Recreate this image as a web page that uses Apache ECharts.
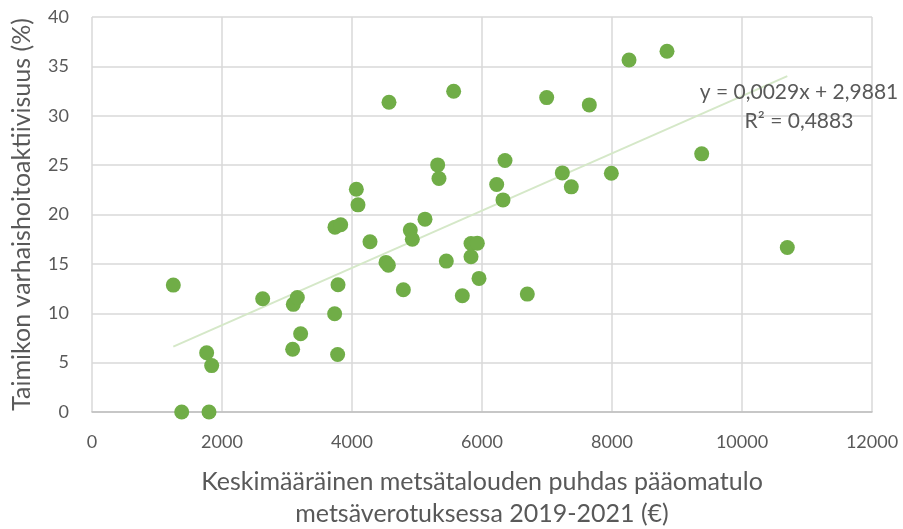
<!DOCTYPE html>
<html>
<head>
<meta charset="utf-8">
<script src="https://cdn.jsdelivr.net/npm/echarts@6/dist/echarts.min.js"></script>
<style>
  html, body { margin: 0; padding: 0; background: #fff; }
  #chart { width: 903px; height: 529px; }
</style>
</head>
<body>
<div id="chart"></div>
<script>
// Keskimääräinen puhdas pääomatulo (€) ja taimikon varhaishoitoaktiivisuus (%)
const incomeEur = [
  1251, 1380, 1800, 1764, 1841, 2626, 3087, 3097, 3159, 3210,
  3733, 3785, 3779, 3738, 3826, 4067, 4092, 4277, 4523, 4559,
  4569, 4790, 4897, 4928, 5123, 5318, 5338, 5451, 5564, 5697,
  5831, 5928, 5831, 5954, 6226, 6323, 6354, 6697, 6995, 7236,
  7374, 7651, 7990, 8262, 8846, 9380, 10697
];
const activityPct = [
  12.85, 0.0, 0.0, 6.0, 4.7, 11.47, 6.35, 10.9, 11.6, 7.93,
  9.95, 12.88, 5.83, 18.72, 18.96, 22.56, 20.98, 17.24, 15.15, 14.87,
  31.37, 12.38, 18.42, 17.5, 19.53, 25.02, 23.64, 15.28, 32.48, 11.77,
  17.07, 17.1, 15.72, 13.53, 23.04, 21.48, 25.47, 11.94, 31.84, 24.21,
  22.8, 31.1, 24.18, 35.65, 36.53, 26.14, 16.66
];

// Lineaarinen trendi: y = 0,0029x + 2,9881
const trendSlope = 0.0029;
const trendIntercept = 2.9881;
const trendLabel = ['y = 0,0029x + 2,9881', 'R² = 0,4883'];

const xTicks = [0, 2000, 4000, 6000, 8000, 10000, 12000];
const yTicks = [0, 5, 10, 15, 20, 25, 30, 35, 40];

const points = incomeEur.map((x, i) => [x, activityPct[i]]);
const xMin = Math.min(...incomeEur);
const xMax = Math.max(...incomeEur);
const trendLine = [xMin, xMax].map(x => [x, trendSlope * x + trendIntercept]);

const FONT = 'Lato, "Open Sans", sans-serif';
const TEXT = '#595959';
const GRID = '#d9d9d9';

const chart = echarts.init(document.getElementById('chart'), null, { renderer: 'canvas' });
chart.setOption({
  animation: false,
  backgroundColor: '#fff',
  grid: { left: 92, right: 31, top: 17, bottom: 117, containLabel: false, outerBoundsMode: 'none' },
  xAxis: {
    type: 'value',
    min: xTicks[0],
    max: xTicks[xTicks.length - 1],
    interval: xTicks[1] - xTicks[0],
    name: 'Keskimääräinen metsätalouden puhdas pääomatulo\nmetsäverotuksessa 2019-2021 (€)',
    nameLocation: 'middle',
    nameGap: 54,
    nameTextStyle: { fontFamily: FONT, fontSize: 25, color: TEXT, lineHeight: 32 },
    axisLine: { show: true, lineStyle: { color: '#bfbfbf', width: 1.5 } },
    axisTick: { show: false },
    axisLabel: { fontFamily: FONT, fontSize: 18, color: TEXT, margin: 21, formatter: v => String(v) },
    splitLine: { show: true, lineStyle: { color: GRID, width: 1.5 } }
  },
  yAxis: {
    type: 'value',
    min: yTicks[0],
    max: yTicks[yTicks.length - 1],
    interval: yTicks[1] - yTicks[0],
    name: 'Taimikon varhaishoitoaktiivisuus (%)',
    nameLocation: 'middle',
    nameGap: 58,
    nameTextStyle: { fontFamily: FONT, fontSize: 25, color: TEXT },
    axisLine: { show: false },
    axisTick: { show: false },
    axisLabel: { fontFamily: FONT, fontSize: 18, color: TEXT, margin: 23, formatter: v => String(v) },
    splitLine: { show: true, lineStyle: { color: GRID, width: 1.5 } }
  },
  series: [
    {
      type: 'line',
      data: trendLine,
      symbol: 'none',
      lineStyle: { color: '#d5e8c8', width: 2 },
      z: 1
    },
    {
      type: 'scatter',
      data: points,
      symbol: 'circle',
      symbolSize: 15,
      itemStyle: { color: '#70ad47', opacity: 1 },
      clip: false,
      z: 2
    }
  ],
  graphic: [
    {
      type: 'text',
      z: 10,
      x: 799,
      y: 78,
      style: {
        text: trendLabel.join('\n'),
        font: '21px ' + FONT,
        fill: TEXT,
        align: 'center',
        lineHeight: 29
      }
    }
  ]
});
</script>
</body>
</html>
